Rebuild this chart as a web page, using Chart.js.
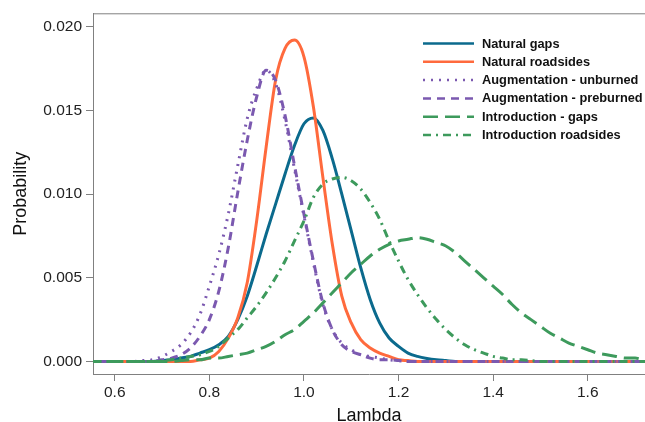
<!DOCTYPE html>
<html><head><meta charset="utf-8">
<script src="https://cdn.jsdelivr.net/npm/chart.js@4/dist/chart.umd.min.js"></script>
<style>html,body{margin:0;padding:0;background:#fff}#wrap{width:645px;height:422px}</style>
</head><body><div id="wrap"><canvas id="c" width="645" height="422"></canvas></div>
<script>
const lambda = [0.54,0.56,0.58,0.60,0.62,0.64,0.66,0.68,0.70,0.72,0.74,0.76,0.78,0.80,0.82,0.84,0.86,0.88,0.90,0.92,0.94,0.96,0.98,1.00,1.02,1.04,1.06,1.08,1.10,1.12,1.14,1.16,1.18,1.20,1.22,1.24,1.26,1.28,1.30,1.32,1.34,1.36,1.38,1.40,1.42,1.44,1.46,1.48,1.50,1.52,1.54,1.56,1.58,1.60,1.62,1.64,1.66,1.68,1.70,1.72,1.74];

const naturalGaps = [0,0,0,0,0,0,0,0,
  0.00005,0.0001,0.0002,0.0003,0.0005,0.0007,0.0010,0.0015,0.0025,0.0039,0.0057,0.0076,0.0094,0.0112,0.0129,0.0142,0.01455,0.0138,0.0121,0.0100,0.0078,0.0056,0.0037,0.0023,0.0014,0.0009,0.0005,0.0003,0.00018,0.0001,0.00005,
  0,0,0,0,0,0,0,0,0,0,0,0,0,0,0,0,0,0,0,0,0,0];

const naturalRoadsides = [0,0,0,0,0,0,0,0,0,0,0,0,
  0.0001,0.0002,0.0006,0.0014,0.0026,0.0047,0.0084,0.0128,0.0168,0.0187,0.0192,0.0182,0.0152,0.0110,0.0070,0.0039,0.0023,0.0013,0.0008,0.0005,0.0003,0.0001,0.00005,
  0,0,0,0,0,0,0,0,0,0,0,0,0,0,0,0,0,0,0,0,0,0,0,0,0,0];

const augUnburned = [0,0,0,0,0,0,
  0.00005,0.0001,0.0003,0.0006,0.0010,0.0017,0.0028,0.0045,0.0064,0.0088,0.0117,0.0145,0.0163,0.0174,0.0166,0.0144,0.0115,0.0087,0.0059,0.0034,0.0019,0.0011,0.0007,0.0004,0.0003,0.0002,0.0001,0.00005,
  0,0,0,0,0,0,0,0,0,0,0,0,0,0,0,0,0,0,0,0,0,0,0,0,0,0,0];

const augPreburned = [0,0,0,0,0,0,0,0,
  0.0001,0.0002,0.0004,0.0008,0.0015,0.0025,0.0042,0.0068,0.0101,0.0132,0.0158,0.0174,0.0168,0.0147,0.0117,0.0088,0.0060,0.0035,0.0019,0.0010,0.0006,0.0004,0.0002,0.0001,0.0001,0.00005,
  0,0,0,0,0,0,0,0,0,0,0,0,0,0,0,0,0,0,0,0,0,0,0,0,0,0,0];

const introGaps = [0,0,0,0,0,0,0,0,0,0,
  0.00005,0.0001,0.0001,0.0002,0.0002,0.0003,0.0004,0.0005,0.0007,0.0009,0.0012,0.0016,0.0019,0.0024,0.0029,0.0035,0.0041,0.0047,0.0053,0.0058,0.0063,0.0067,0.0070,0.0072,0.0073,0.0074,0.0073,0.0071,0.0069,0.0065,0.0060,0.0055,0.0050,0.0045,0.0040,0.0034,0.0029,0.0025,0.0021,0.0017,0.0014,0.0011,0.0009,0.0007,0.0005,0.0004,0.0003,0.0002,0.0002,0.0001,0.0001];

const introRoadsides = [0,0,0,0,0,0,0,0,
  0.00005,0.0001,0.0002,0.0003,0.0004,0.0006,0.0009,0.0014,0.0019,0.0026,0.0033,0.0041,0.0050,0.0060,0.0072,0.0084,0.0098,0.0106,0.0109,0.0110,0.0108,0.0103,0.0095,0.0085,0.0072,0.0060,0.0049,0.0040,0.0032,0.0025,0.0019,0.0014,0.0010,0.0007,0.0005,0.0003,0.0002,0.0001,0.0001,0.00005,
  0,0,0,0,0,0,0,0,0,0,0,0,0];

const seriesLabels = ['Natural gaps','Natural roadsides','Augmentation - unburned','Augmentation - preburned','Introduction - gaps','Introduction roadsides'];
const seriesValues = [naturalGaps, naturalRoadsides, augUnburned, augPreburned, introGaps, introRoadsides];
const xTicks = [0.6,0.8,1.0,1.2,1.4,1.6];
const yTicks = [0,0.005,0.010,0.015,0.020];

const styles = [
  {color:'#0b6a8d', dash:[]},
  {color:'#ff6a3d', dash:[]},
  {color:'#7b59b0', dash:[2,6]},
  {color:'#7b59b0', dash:[8,6]},
  {color:'#3d9a5c', dash:[15,7]},
  {color:'#3d9a5c', dash:[8,5,2,5]}
];

const FONT = '"Liberation Sans", Arial, Helvetica, sans-serif';

const datasets = seriesValues.map((vals,i)=>({
  label: seriesLabels[i],
  data: lambda.map((x,j)=>({x:x, y:vals[j]})),
  borderColor: styles[i].color,
  borderDash: styles[i].dash,
  borderWidth: 3,
  borderCapStyle: 'butt',
  borderJoinStyle: 'round',
  pointRadius: 0,
  fill: false,
  cubicInterpolationMode: 'monotone',
  order: seriesLabels.length - i
}));

const framePlugin = {
  id: 'frameLegend',
  afterDraw(chart){
    const {ctx, chartArea:a} = chart;
    ctx.save();
    ctx.strokeStyle = '#808080'; ctx.lineWidth = 1; ctx.setLineDash([]);
    ctx.beginPath(); ctx.moveTo(a.left, a.top + 0.5); ctx.lineTo(a.right, a.top + 0.5); ctx.stroke();
    ctx.font = 'bold 12.8px ' + FONT;
    ctx.textBaseline = 'middle'; ctx.textAlign = 'left';
    chart.data.datasets.forEach((ds,i)=>{
      const y = 43.5 + i*18.3;
      ctx.strokeStyle = ds.borderColor; ctx.lineWidth = 2.5; ctx.lineCap = 'butt';
      ctx.setLineDash(ds.borderDash || []);
      ctx.beginPath(); ctx.moveTo(423, y); ctx.lineTo(474, y); ctx.stroke();
      ctx.setLineDash([]);
      ctx.fillStyle = '#111';
      ctx.fillText(ds.label, 482, y + 0.5);
    });
    ctx.restore();
  }
};

new Chart(document.getElementById('c'), {
  type: 'line',
  data: { datasets },
  options: {
    responsive: false,
    devicePixelRatio: 1,
    animation: false,
    layout: { padding: { top: 12, right: 0, left: 0, bottom: 0 } },
    plugins: { legend: { display: false }, tooltip: { enabled: false } },
    scales: {
      x: {
        type: 'linear', min: 0.554, max: 1.721,
        afterBuildTicks: s => { s.ticks = xTicks.map(v=>({value:v})); },
        afterFit: s => { s.height = 48; },
        grid: { drawOnChartArea: false, drawTicks: true, tickLength: 7, color: '#808080' },
        border: { display: true, color: '#808080', width: 1 },
        ticks: { padding: 2, color: '#222', font: { family: FONT, size: 15.5 }, maxRotation: 0, autoSkip: false,
          callback: v => Number(v).toFixed(1) },
        title: { display: true, text: 'Lambda', color: '#111', font: { family: FONT, size: 18, lineHeight: 1 }, padding: { top: 0, bottom: -3 } }
      },
      y: {
        type: 'linear', min: -0.00075, max: 0.0208,
        afterBuildTicks: s => { s.ticks = yTicks.map(v=>({value:v})); },
        afterFit: s => { s.width = 93; },
        grid: { drawOnChartArea: false, drawTicks: true, tickLength: 7, color: '#808080' },
        border: { display: true, color: '#808080', width: 1 },
        ticks: { padding: 4, color: '#222', font: { family: FONT, size: 15.5 }, autoSkip: false,
          callback: v => Number(v).toFixed(3) },
        title: { display: true, text: 'Probability', color: '#111', font: { family: FONT, size: 18, lineHeight: 1 }, padding: { top: 12, bottom: 0 } }
      }
    }
  },
  plugins: [framePlugin]
});
</script>
</body></html>
